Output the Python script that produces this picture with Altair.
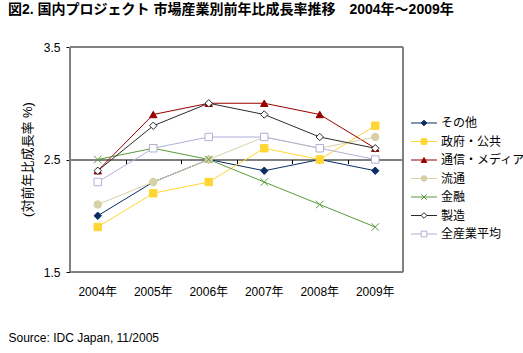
import altair as alt
import pandas as pd

years = ["2004年", "2005年", "2006年", "2007年", "2008年", "2009年"]
series = ["その他", "政府・公共", "通信・メディア", "流通", "金融", "製造", "全産業平均"]

v_sonota = [2.0, 2.3, 2.5, 2.4, 2.5, 2.4]
v_seifu = [1.9, 2.2, 2.3, 2.6, 2.5, 2.8]
v_tsushin = [2.4, 2.9, 3.0, 3.0, 2.9, 2.6]
v_ryutsu = [2.1, 2.3, 2.5, 2.7, 2.6, 2.7]
v_kinyu = [2.5, 2.6, 2.5, 2.3, 2.1, 1.9]
v_seizo = [2.4, 2.8, 3.0, 2.9, 2.7, 2.6]
v_avg = [2.3, 2.6, 2.7, 2.7, 2.6, 2.5]

all_vals = [v_sonota, v_seifu, v_tsushin, v_ryutsu, v_kinyu, v_seizo, v_avg]

stroke_colors = ["#0B2C64", "#FFD633", "#990000", "#D8D0A6", "#5A9A3C", "#2B2B2B", "#B0B0D8"]
fill_colors = ["#0B2C64", "#FFD633", "#990000", "#D8D0A6", "#5A9A3C", "#FFFFFF", "#FFFFFF"]
shapes = ["diamond", "square", "triangle-up", "circle", "M-1,-1L1,1M-1,1L1,-1", "diamond", "square"]

title_text = "図2. 国内プロジェクト 市場産業別前年比成長率推移　2004年～2009年"
source_text = "Source: IDC Japan, 11/2005"
y_title = "(対前年比成長率 %)"
y_ticks = [1.5, 2.5, 3.5]

rows = []
for s, vals in zip(series, all_vals):
    for y, v in zip(years, vals):
        rows.append({"year": y, "series": s, "value": v})
df = pd.DataFrame(rows)
leg_df = pd.DataFrame({"series": series, "row": list(range(len(series)))})

FONT = "Liberation Sans, Arial, Noto Sans CJK JP"

xscale = alt.Scale(type="band", domain=years, paddingInner=0, paddingOuter=0)
yscale = alt.Scale(domain=[1.5, 3.5], nice=False, zero=False)

stroke_enc = alt.Stroke("series:N", scale=alt.Scale(domain=series, range=stroke_colors), legend=None)
fill_enc = alt.Fill("series:N", scale=alt.Scale(domain=series, range=fill_colors), legend=None)
shape_enc = alt.Shape("series:N", scale=alt.Scale(domain=series, range=shapes), legend=None)

x_bottom = alt.X(
    "year:N", sort=years, scale=xscale,
    axis=alt.Axis(
        title=source_text, labelAngle=0, ticks=False, tickSize=0, domain=False,
        labelPadding=14, labelFontSize=12, labelColor="#000000", labelFont=FONT,
        titleX=-62, titleY=65, titleAlign="left", titleBaseline="middle",
        titleFontSize=12, titleFontWeight="normal", titleColor="#000000", titleFont=FONT,
    ),
)
x_mid = alt.X(
    "year:N", sort=years, scale=xscale,
    axis=alt.Axis(
        title=None, labels=False, ticks=True, tickBand="extent", tickSize=4,
        tickColor="#000000", domain=True, domainColor="#000000", offset=-112.5,
        orient="bottom", grid=False,
    ),
)
y_axis = alt.Axis(
    values=y_ticks, format=".1f", title=y_title, grid=False,
    tickSize=4, tickColor="#000000", domainColor="#000000",
    labelFontSize=12, labelColor="#000000", labelPadding=6, labelFont=FONT,
    titleFontSize=13, titleFontWeight="normal", titleColor="#000000", titleFont=FONT,
    titleX=-43, titleY=112, titleAlign="center", titleBaseline="middle", titleAngle=270,
)
y_main = alt.Y("value:Q", scale=yscale, axis=y_axis)

base = alt.Chart(df)
frame = alt.Chart(leg_df).mark_rect(fill=None, stroke="#808080", strokeWidth=1).encode(
    x=alt.value(0), x2=alt.value(333), y=alt.value(0), y2=alt.value(225)
)
lines = base.mark_line(strokeWidth=1).encode(x=x_bottom, y=y_main, stroke=stroke_enc)
points = base.mark_point(filled=True, size=55, strokeWidth=1, opacity=1).encode(
    x=x_mid, y=y_main,
    shape=shape_enc, stroke=stroke_enc, fill=fill_enc,
)
main = alt.layer(lines, points).resolve_axis(x="independent")

yleg = alt.Y("row:Q", scale=alt.Scale(domain=[0, 6], range=[76, 187]), axis=None)
leg = alt.Chart(leg_df)
leg_bg = leg.mark_rect(fill="white").encode(
    x=alt.value(334), x2=alt.value(455), y=alt.value(63), y2=alt.value(196)
)
leg_rule = leg.mark_rule(strokeWidth=1).encode(
    x=alt.value(341), x2=alt.value(367), y=yleg, stroke=stroke_enc
)
leg_pts = leg.mark_point(filled=True, size=32, strokeWidth=1, opacity=1).encode(
    x=alt.value(354), y=yleg, shape=shape_enc, stroke=stroke_enc, fill=fill_enc
)
leg_txt = leg.mark_text(align="left", baseline="middle", fontSize=12, font=FONT, color="#000000").encode(
    x=alt.value(371), y=yleg, text="series:N"
)
legend = alt.layer(leg_bg, leg_rule, leg_pts, leg_txt)

chart = alt.layer(frame, main, legend).resolve_scale(y="independent").resolve_axis(y="independent").properties(
    width=333, height=225,
    autosize=alt.AutoSizeParams(type="none"),
    padding={"left": 70, "top": 47, "right": 120, "bottom": 81},
    title=alt.Title(title_text, anchor="start", frame="group", dx=-62, fontSize=14,
                    fontWeight="bold", font=FONT, color="#000000", offset=24),
).configure_view(stroke=None).configure(font=FONT, background="white")

chart.save("out.html", embed_options={"renderer": "svg", "actions": False})
